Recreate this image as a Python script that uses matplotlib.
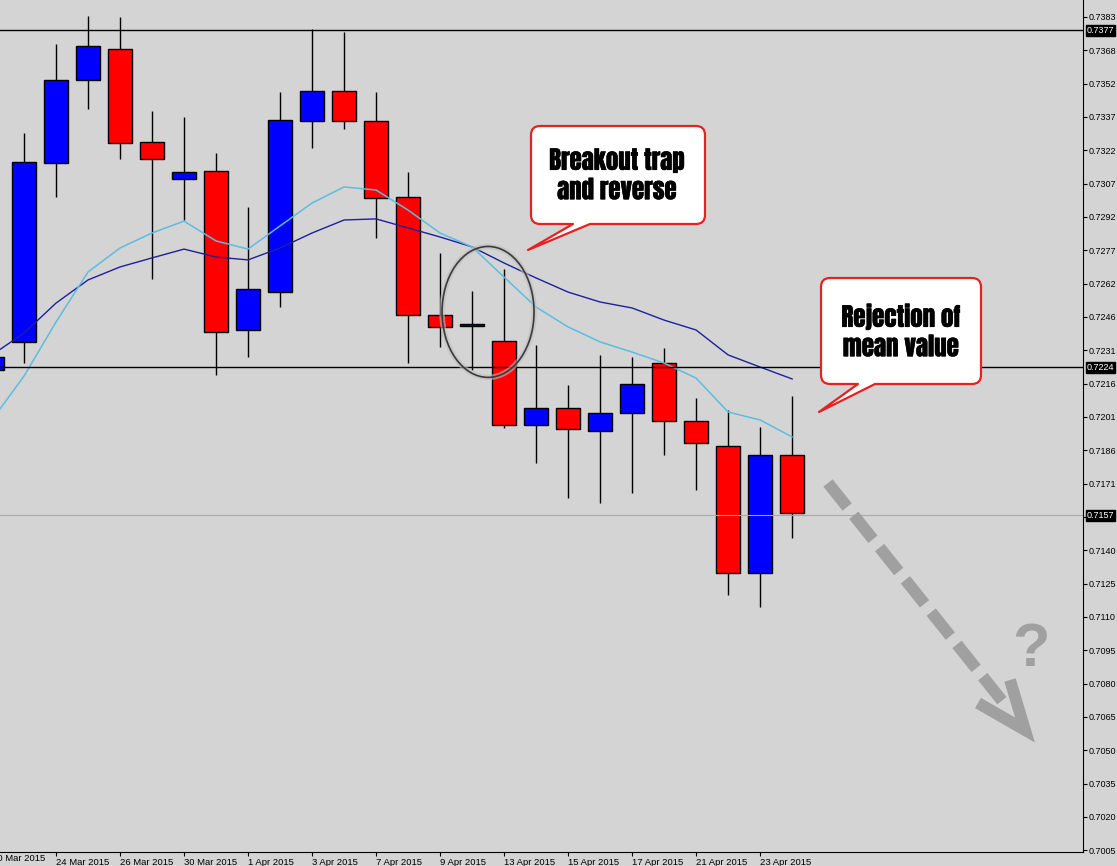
import numpy as np
import matplotlib.pyplot as plt
import matplotlib.patheffects as pe
from matplotlib import font_manager as fm
from matplotlib.patches import Rectangle, Ellipse, PathPatch
from matplotlib.path import Path
from matplotlib.lines import Line2D

# daily candles, AUD/USD style price data
dates = ['20 Mar 2015', '23 Mar 2015', '24 Mar 2015', '25 Mar 2015', '26 Mar 2015',
         '27 Mar 2015', '30 Mar 2015', '31 Mar 2015', '1 Apr 2015', '2 Apr 2015',
         '3 Apr 2015', '6 Apr 2015', '7 Apr 2015', '8 Apr 2015', '9 Apr 2015',
         '10 Apr 2015', '13 Apr 2015', '14 Apr 2015', '15 Apr 2015', '16 Apr 2015',
         '17 Apr 2015', '20 Apr 2015', '21 Apr 2015', '22 Apr 2015', '23 Apr 2015',
         '24 Apr 2015']
opens = [0.72228, 0.72356, 0.73168, 0.73544, 0.73685, 0.73263, 0.73095, 0.73131, 0.72410,
         0.72582, 0.73358, 0.73494, 0.73358, 0.73013, 0.72478, 0.72428, 0.72360, 0.71979,
         0.72056, 0.71952, 0.72033, 0.72260, 0.71997, 0.71884, 0.71307, 0.71843]
highs = [0.72310, 0.73304, 0.73708, 0.73835, 0.73830, 0.73404, 0.73376, 0.73213, 0.72968,
         0.73490, 0.73776, 0.73762, 0.73490, 0.73127, 0.72759, 0.72587, 0.72687, 0.72342,
         0.72160, 0.72297, 0.72287, 0.72328, 0.72101, 0.72047, 0.71970, 0.72110]
lows = [0.72206, 0.72260, 0.73013, 0.73413, 0.73186, 0.72641, 0.72909, 0.72206, 0.72287,
        0.72514, 0.73236, 0.73322, 0.72827, 0.72260, 0.72333, 0.72228, 0.71965, 0.71806,
        0.71648, 0.71625, 0.71670, 0.71843, 0.71684, 0.71208, 0.71153, 0.71466]
closes = [0.72287, 0.73172, 0.73544, 0.73698, 0.73258, 0.73186, 0.73127, 0.72401, 0.72596,
          0.73363, 0.73494, 0.73358, 0.73009, 0.72478, 0.72424, 0.72437, 0.71979, 0.72056,
          0.71961, 0.72033, 0.72165, 0.71997, 0.71897, 0.71307, 0.71843, 0.71580]

# moving averages (fast = light blue, slow = dark blue)
ma_fast = [0.72002, 0.72201, 0.72446, 0.72673, 0.72782, 0.72850, 0.72904, 0.72814, 0.72777,
           0.72882, 0.72986, 0.73059, 0.73045, 0.72954, 0.72850, 0.72787, 0.72650, 0.72514,
           0.72424, 0.72356, 0.72310, 0.72260, 0.72192, 0.72038, 0.72002, 0.71925]
ma_slow = [0.72297, 0.72396, 0.72532, 0.72637, 0.72696, 0.72737, 0.72777, 0.72741, 0.72728,
           0.72782, 0.72850, 0.72909, 0.72914, 0.72873, 0.72832, 0.72787, 0.72714, 0.72646,
           0.72582, 0.72537, 0.72510, 0.72455, 0.72410, 0.72297, 0.72242, 0.72188]

price_ticks = np.linspace(0.7005, 0.7383, 26)
# the 0.7156 tick sits under the highlighted 0.7157 box, so it gets no label
price_labels = ['0.7005', '0.7020', '0.7035', '0.7050', '0.7065', '0.7080', '0.7095',
                '0.7110', '0.7125', '0.7140', '', '0.7171', '0.7186', '0.7201',
                '0.7216', '0.7231', '0.7246', '0.7262', '0.7277', '0.7292', '0.7307',
                '0.7322', '0.7337', '0.7352', '0.7368', '0.7383']

levels = [0.7377, 0.7224, 0.7157]
level_labels = ['0.7377', '0.7224', '0.7157']
level_colors = ['black', 'black', '#a9a9a9']

bg = '#d4d4d4'
W, H = 1117, 866


def px(x, y):
    # pixel position (from top-left) -> figure fraction
    return x / W, 1 - y / H


def callout(x0, y0, x1, y1, bx0, bx1, tx, ty, r=9):
    pts = [(x0 + r, y0), (x1 - r, y0), (x1, y0), (x1, y0 + r), (x1, y1 - r),
           (x1, y1), (x1 - r, y1), (bx1, y1), (tx, ty), (bx0, y1), (x0 + r, y1),
           (x0, y1), (x0, y1 - r), (x0, y0 + r), (x0, y0), (x0 + r, y0), (x0 + r, y0)]
    codes = [Path.MOVETO, Path.LINETO, Path.CURVE3, Path.CURVE3, Path.LINETO,
             Path.CURVE3, Path.CURVE3, Path.LINETO, Path.LINETO, Path.LINETO, Path.LINETO,
             Path.CURVE3, Path.CURVE3, Path.LINETO, Path.CURVE3, Path.CURVE3, Path.CLOSEPOLY]
    verts = [px(a, b) for a, b in pts]
    return PathPatch(Path(verts, codes), transform=fig.transFigure, facecolor='white',
                     edgecolor='#e52222', lw=1.6, joinstyle='round', zorder=10)


def pick_font():
    # find a narrow heavy face like Impact, else condensed DejaVu
    for name in ['Impact', 'Anton', 'Oswald', 'Roboto Condensed', 'Liberation Sans Narrow',
                 'Arial Narrow', 'Open Sans Condensed']:
        try:
            fm.findfont(fm.FontProperties(family=name), fallback_to_default=False)
            return dict(family=[name, 'DejaVu Sans'], fontweight='bold')
        except Exception:
            pass
    f = fm.findfont(fm.FontProperties(family='DejaVu Sans', stretch='condensed',
                                      weight='bold'))
    if 'Condensed' in f:
        return dict(family=['DejaVu Sans'], fontstretch='condensed', fontweight='bold')
    return dict(family=['DejaVu Sans'], fontweight='bold')


fig = plt.figure(figsize=(W / 100, H / 100), dpi=100)
fig.patch.set_facecolor(bg)
ax = fig.add_axes([0, 14 / H, 1083 / W, 852 / H])
ax.set_facecolor(bg)

x = np.arange(len(dates))

# candles
for i in x:
    o, h, l, c = opens[i], highs[i], lows[i], closes[i]
    col = '#0000ff' if c >= o else '#ff0000'
    ax.vlines(i, l, h, color='black', lw=1, zorder=2)
    ax.add_patch(Rectangle((i - 0.375, min(o, c)), 0.75, abs(c - o), facecolor=col,
                           edgecolor='black', lw=1, zorder=3))

ax.plot(x, ma_slow, color='#1f1f9e', lw=1, zorder=4)
ax.plot(x, ma_fast, color='#5cbde0', lw=1.1, zorder=4)

for lv, lc in zip(levels, level_colors):
    ax.axhline(lv, color=lc, lw=1 if lc == 'black' else 0.8, zorder=5)

# circle around the breakout trap
ax.add_patch(Ellipse((15.5, 0.72492), 2.875, 0.00594, fill=False, edgecolor='#bdbdbd',
                     lw=4, alpha=0.6, zorder=6))
ax.add_patch(Ellipse((15.5, 0.72492), 2.875, 0.00594, fill=False, edgecolor='#3a3a3a',
                     lw=1.2, zorder=6))

ax.set_xlim(0.25, 34.09)
ax.set_ylim(0.70042, 0.73907)

# axes styling
for s in ['top', 'left']:
    ax.spines[s].set_visible(False)
ax.spines['right'].set_color('black')
ax.spines['bottom'].set_color('black')
ax.yaxis.tick_right()
ax.set_yticks(price_ticks, price_labels)
ax.tick_params(axis='y', direction='out', length=3, width=0.8, labelsize=6.5, pad=1,
               colors='black')
ax.set_xticks(x[2::2], [dates[i] for i in x[2::2]])
ax.tick_params(axis='x', direction='out', length=3, width=0.8, labelsize=6.8, pad=1,
               colors='black')
for lbl in ax.get_xticklabels():
    lbl.set_horizontalalignment('left')
    lbl.set_family(['Liberation Sans', 'DejaVu Sans'])
for lbl in ax.get_yticklabels():
    lbl.set_family(['Liberation Sans', 'DejaVu Sans'])
# first date label runs off the left edge
ax.text(0, -0.002, dates[0], transform=ax.get_xaxis_transform(), ha='left', va='top',
        fontsize=6.8, family=['Liberation Sans', 'DejaVu Sans'], clip_on=False)

# highlighted level prices on the price scale
for lv, lt in zip(levels, level_labels):
    ax.text(1.0035, lv, lt, transform=ax.get_yaxis_transform(), ha='left', va='center',
            color='white', fontsize=6.5, family=['Liberation Sans', 'DejaVu Sans'],
            bbox=dict(boxstyle='square,pad=0.12', fc='black', ec='black'), zorder=10)

# callouts
fig.add_artist(callout(531, 126, 705, 224, 573, 590, 528, 250))
fig.add_artist(callout(821, 278, 981, 384, 858, 875, 819, 412))
stroke = [pe.withStroke(linewidth=0.4, foreground='black')]
cfont = pick_font()
notes = []
notes.append(fig.text(*px(617, 175), 'Breakout trap\nand reverse', ha='center',
                      va='center', fontsize=18, linespacing=1.2, zorder=11,
                      path_effects=stroke, **cfont))
notes.append(fig.text(*px(901, 331), 'Rejection of\nmean value', ha='center',
                      va='center', fontsize=18, linespacing=1.2, zorder=11,
                      path_effects=stroke, **cfont))
# shrink the note text so it fits the width seen in the picture
renderer = fig.canvas.get_renderer()
for t, target in zip(notes, [136, 132]):
    w = t.get_window_extent(renderer).width
    if w > target:
        t.set_fontsize(18 * target / w)

# dashed down arrow with question mark
arrow_col = '#a0a0a0'
sx, sy = zip(px(828, 483), px(1003, 702))
fig.add_artist(Line2D(sx, sy, transform=fig.transFigure, color=arrow_col, lw=8.5,
                      dashes=(2.6, 0.9), solid_capstyle='butt', dash_capstyle='butt'))
hx, hy = zip(px(978, 703), px(1025, 730), px(1010, 680))
fig.add_artist(Line2D(hx, hy, transform=fig.transFigure, color=arrow_col, lw=8.5,
                      solid_joinstyle='miter', solid_capstyle='butt'))
fig.text(*px(1031, 650), '?', ha='center', va='center', fontsize=44, fontweight='bold',
         color=arrow_col, family=['Liberation Sans', 'DejaVu Sans'])

fig.savefig('out.png', dpi=100, facecolor=bg)
